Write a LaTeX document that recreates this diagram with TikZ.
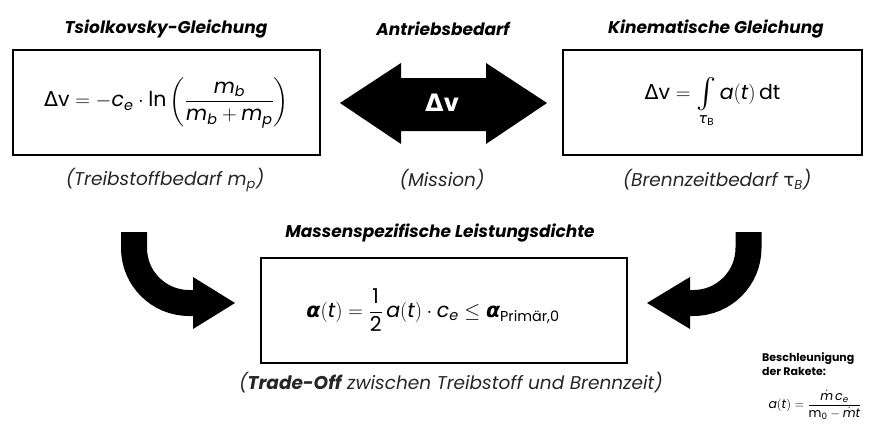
\RequirePackage{fix-cm}
\documentclass[tikz,border=0pt]{standalone}
\usepackage{amsmath,amssymb}
\usepackage{fontspec}
\setmainfont{Poppins}
\newfontfamily\dejavu{DejaVu Sans}
\newcommand\ti[1]{\text{\itshape #1}}
\newcommand\gr[1]{\text{\dejavu #1}}

\begin{document}
\begin{tikzpicture}
[x=1pt,y=-1pt,
box/.style={rectangle,draw=black,line width=2.5pt,inner sep=0pt},
head/.style={font=\fontsize{17}{20}\selectfont\bfseries\itshape},
note/.style={font=\fontsize{18.5}{22}\selectfont\itshape,text=black!85},
form/.style={font=\fontsize{20.5}{24}\selectfont},
curvearrow/.style={line width=26pt}]
\useasboundingbox (0,0) rectangle (887,426);
% boxes
\node[box,form,minimum width=307pt,minimum height=105pt] at (166.5,102.5) (tsio)
  {$\gr{Δ}\text{v} = -\ti{c}_{\ti{e}}\cdot\text{ln}\left(\dfrac{\ti{m}_{\ti{b}}}{\ti{m}_{\ti{b}}+\ti{m}_{\ti{p}}}\right)$};
\node[box,form,minimum width=299pt,minimum height=105pt] at (712.5,102.5) (kin)
  {$\gr{Δ}\text{v} = \mathop{\vcenter{\hbox{\fontsize{30}{34}\selectfont$\int$}}}\limits_{\gr{\itshape τ}_{\text{B}}}\ti{a}(\ti{t})\,\text{dt}$};
\node[box,form,minimum width=366pt,minimum height=105pt] at (444,310.5) (leist)
  {$\gr{\bfseries\itshape α}(\ti{t}) = \dfrac{\text{1}}{\text{2}}\,\ti{a}(\ti{t})\cdot\ti{c}_{\ti{e}}\le\gr{\bfseries\itshape α}_{\text{Primär,0}}$\hspace*{22pt}};
% titles
\node[head] at (166,29) (t1) {Tsiolkovsky-Gleichung};
\node[head] at (443,29) (t2) {Antriebsbedarf};
\node[head] at (716,29) (t3) {Kinematische Gleichung};
\node[head] at (440,233) (t4) {Massenspezifische Leistungsdichte};
\node[note] at (165,180) (s1) {(Treibstoffbedarf m$_{\text{p}}$)};
\node[note] at (442,180) (s2) {(Mission)};
\node[note] at (717,180) (s3) {(Brennzeitbedarf {\upshape\dejavu τ}$_{\text{B}}$)};
\node[note] at (451,383) (s4) {(\textbf{Trade-Off} zwischen Treibstoff und Brennzeit)};
% double arrow
\fill (340,103) -- (401,63) -- (401,78) -- (486,78) -- (486,63) -- (547,103)
  -- (486,144) -- (486,131) -- (401,131) -- (401,144) -- cycle;
\node[text=white,font=\fontsize{24}{28}\selectfont\bfseries] at (442,103) (dv) {{\dejavu Δ}v};
% curved arrows
\draw[curvearrow] (134,232) -- (134,248) arc[start angle=180,end angle=90,radius=55] -- (194,303);
\fill (193,277) -- (235,303) -- (193,329) -- cycle;
\draw[curvearrow] (748.5,232) -- (748.5,248) arc[start angle=0,end angle=90,radius=55] -- (689,303);
\fill (690,277) -- (647,303) -- (690,329) -- cycle;
% side note
\node[anchor=north west,align=left,font=\fontsize{11}{14}\selectfont\bfseries,inner sep=0pt] at (762,352) (b1) {Beschleunigung\\der Rakete:};
\node[font=\fontsize{12.5}{15}\selectfont] at (815,405) (b2)
  {$\ti{a}(\ti{t}) = \dfrac{\dot{\ti{m}}\,\ti{c}_{\ti{e}}}{\text{m}_{\text{0}}-\smash[t]{\dot{\ti{m}}}\ti{t}}$};
\end{tikzpicture}
\end{document}
